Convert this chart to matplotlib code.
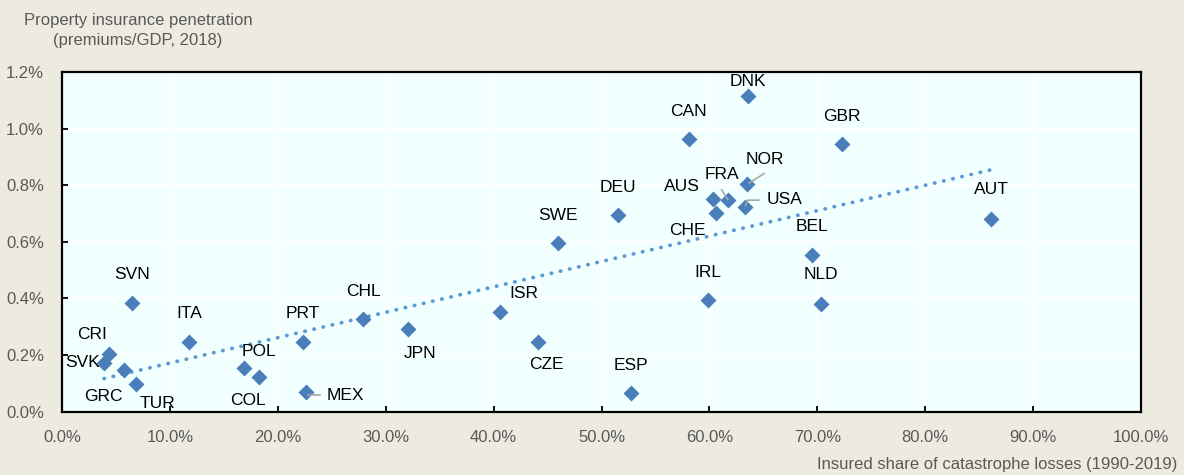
import numpy as np
import matplotlib
matplotlib.use('Agg')
import matplotlib.pyplot as plt
from matplotlib.ticker import PercentFormatter, MultipleLocator

plt.rcParams['font.family'] = ['Liberation Sans Narrow', 'Liberation Sans', 'DejaVu Sans']

# insured share of catastrophe losses 1990-2019 (%), property insurance premiums/GDP 2018 (%)
countries = ['DNK', 'CAN', 'GBR', 'NOR', 'FRA', 'AUS', 'USA', 'CHE', 'DEU', 'AUT',
             'BEL', 'IRL', 'NLD', 'SWE', 'SVN', 'ITA', 'CRI', 'SVK', 'GRC', 'TUR',
             'POL', 'COL', 'PRT', 'MEX', 'CHL', 'JPN', 'ISR', 'CZE', 'ESP']
insured_share = [63.6, 58.1, 72.3, 63.5, 61.7, 60.3, 63.3, 60.6, 51.5, 86.1,
                 69.5, 59.9, 70.3, 46.0, 6.5, 11.8, 4.4, 3.9, 5.7, 6.9,
                 16.9, 18.3, 22.3, 22.6, 27.9, 32.1, 40.6, 44.1, 52.7]
penetration = [1.116, 0.962, 0.944, 0.804, 0.746, 0.750, 0.724, 0.700, 0.693, 0.682,
               0.552, 0.393, 0.380, 0.594, 0.385, 0.247, 0.202, 0.173, 0.146, 0.097,
               0.155, 0.121, 0.246, 0.070, 0.326, 0.293, 0.353, 0.247, 0.064]

# label offsets from the point, in pixels (x right, y up)
label_off = {
    'DNK': (0, 14), 'CAN': (0, 28), 'GBR': (0, 28), 'NOR': (18, 25), 'FRA': (-6, 26),
    'AUS': (-31, 13), 'USA': (40, 7), 'CHE': (-28, -17), 'DEU': (0, 28), 'AUT': (0, 29),
    'BEL': (0, 29), 'IRL': (0, 28), 'NLD': (0, 29), 'SWE': (0, 28), 'SVN': (0, 28),
    'ITA': (0, 28), 'CRI': (-17, 20), 'SVK': (-22, 0), 'GRC': (-20, -26), 'TUR': (21, -19),
    'POL': (15, 16), 'COL': (-12, -23), 'PRT': (0, 28), 'MEX': (40, -4), 'CHL': (0, 28),
    'JPN': (12, -25), 'ISR': (24, 18), 'CZE': (9, -23), 'ESP': (0, 28),
}
# leader lines (pixel offsets from the point)
leaders = {
    'NOR': [(17, 10.5), (2, 1)],
    'FRA': [(-6, 10.5), (0, 1)],
    'USA': [(14, 6.5), (3, 6.5), (0.5, 1)],
    'MEX': [(14, -3), (2, -3)],
}

BG = '#EDEAE0'
FACE = '#F2FFFF'
BLUE = '#4A7EBB'
TREND = '#5B9BD5'
GREY_TXT = '#595959'
FS = 12

fig = plt.figure(figsize=(11.84, 4.75), dpi=100, facecolor=BG)
ax = fig.add_axes([62 / 1184, 1 - 411.5 / 475, (1141 - 62) / 1184, (411.5 - 72) / 475])
ax.set_facecolor(FACE)

ax.set_xlim(0, 100)
ax.set_ylim(0, 1.2)
ax.xaxis.set_major_locator(MultipleLocator(10))
ax.yaxis.set_major_locator(MultipleLocator(0.2))
ax.xaxis.set_major_formatter(PercentFormatter(xmax=100, decimals=1))
ax.yaxis.set_major_formatter(PercentFormatter(xmax=100, decimals=1))
ax.grid(True, color='white', linewidth=1.3)
ax.set_axisbelow(True)
for s in ax.spines.values():
    s.set_color('black')
    s.set_linewidth(1.6)
ax.tick_params(direction='in', length=4, width=1.3, colors='black', labelcolor=GREY_TXT,
               labelsize=FS, pad=13)

x = np.array(insured_share)
y = np.array(penetration)

# linear trend
k, b = np.polyfit(x, y, 1)
xt = np.array([x.min(), x.max()])
ax.plot(xt, k * xt + b, color=TREND, lw=2.7, linestyle=(0, (0.1, 2.4)),
        dash_capstyle='round', zorder=2)

ax.plot(x, y, 'D', ms=8, color=BLUE, mec='none', zorder=3)

for c, xi, yi in zip(countries, x, y):
    dx, dy = label_off[c]
    ax.annotate(c, (xi, yi), xytext=(dx, dy), textcoords='offset pixels',
                ha='center', va='center', fontsize=FS + 0.5, color='black', zorder=4,
                annotation_clip=False)

fig.canvas.draw()
for c, pts in leaders.items():
    i = countries.index(c)
    px, py = ax.transData.transform((x[i], y[i]))
    xs = [(px + dx) / fig.bbox.width for dx, dy in pts]
    ys = [(py + dy) / fig.bbox.height for dx, dy in pts]
    fig.add_artist(plt.Line2D(xs, ys, transform=fig.transFigure, color='#A6A6A6', lw=1.2,
                              zorder=5))

fig.text(138 / 1184, 1 - 30.5 / 475, 'Property insurance penetration\n(premiums/GDP, 2018)',
         ha='center', va='center', multialignment='center', fontsize=FS, color=GREY_TXT,
         linespacing=1.45)
fig.text(1177 / 1184, 1 - 465 / 475, 'Insured share of catastrophe losses (1990-2019)',
         ha='right', va='center', fontsize=FS, color=GREY_TXT)

fig.savefig('out.png', dpi=100, facecolor=BG)
